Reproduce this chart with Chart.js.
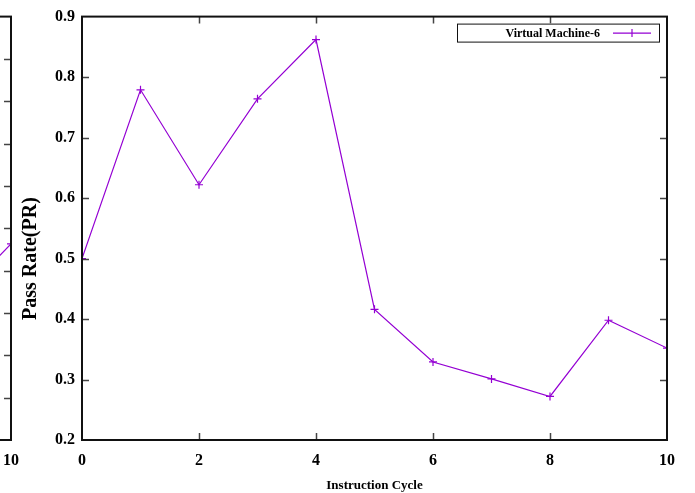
<!DOCTYPE html>
<html>
<head>
<meta charset="utf-8">
<script src="https://cdn.jsdelivr.net/npm/chart.js@4.4.1/dist/chart.umd.min.js"></script>
<style>
  html, body { margin: 0; padding: 0; background: #fff; overflow: hidden; }
  #wrap { position: relative; width: 695px; height: 493px; }
  #prev { position: absolute; left: -656px; top: 0; }
  #main { position: absolute; left: 0; top: 0; }
</style>
</head>
<body>
<div id="wrap">
  <canvas id="prev" width="695" height="493"></canvas>
  <canvas id="main" width="695" height="493"></canvas>
</div>
<script>
// ===============================
// DATOS
// ===============================
const ciclos = [0, 1, 2, 3, 4, 5, 6, 7, 8, 9, 10];
const vm6    = [0.500, 0.779, 0.622, 0.764, 0.862, 0.416, 0.329, 0.301, 0.272, 0.398, 0.352];

// panel anterior (solo se ve su borde derecho)
const ciclosPrev = [9, 10];
const vmPrev     = [0.32, 0.463];

const tituloX = "Instruction Cycle";
const tituloY = "Pass Rate(PR)";
const etiqueta = "Virtual Machine-6";

const COLOR = "#9400d3";
const SERIF = '"Liberation Serif", "Times New Roman", serif';

// ===============================
// PLUGIN: marco + ticks hacia dentro (estilo gnuplot)
// ===============================
const marcoGnuplot = {
  id: "marcoGnuplot",
  afterDatasetsDraw(chart) {
    const { ctx, chartArea: a, scales } = chart;
    const len = 7;
    ctx.save();
    ctx.strokeStyle = "#444";
    ctx.lineWidth = 1.5;
    scales.x.ticks.forEach(t => {
      const px = Math.round(scales.x.getPixelForValue(t.value)) + 0.5;
      if (px <= a.left + 1 || px >= a.right - 1) return;
      ctx.beginPath();
      ctx.moveTo(px, a.bottom); ctx.lineTo(px, a.bottom - len);
      ctx.moveTo(px, a.top);    ctx.lineTo(px, a.top + len);
      ctx.stroke();
    });
    scales.y.ticks.forEach(t => {
      const py = Math.round(scales.y.getPixelForValue(t.value)) + 0.5;
      if (py <= a.top + 1 || py >= a.bottom - 1) return;
      ctx.beginPath();
      ctx.moveTo(a.left, py);  ctx.lineTo(a.left + len, py);
      ctx.moveTo(a.right, py); ctx.lineTo(a.right - len, py);
      ctx.stroke();
    });
    ctx.strokeStyle = "#111";
    ctx.lineWidth = 2;
    ctx.strokeRect(a.left, a.top, a.right - a.left, a.bottom - a.top);
    ctx.restore();
  }
};

// ===============================
// PLUGIN: leyenda dentro del area + titulo Y
// ===============================
const leyendaGnuplot = {
  id: "leyendaGnuplot",
  afterDraw(chart) {
    const { ctx, chartArea: a, scales } = chart;
    const ds = chart.data.datasets[0];
    ctx.save();

    // titulo eje Y
    ctx.font = `bold 20px ${SERIF}`;
    ctx.fillStyle = "#000";
    ctx.textAlign = "center";
    ctx.textBaseline = "middle";
    ctx.translate(31, scales.y.getPixelForValue(0.5));
    ctx.rotate(-Math.PI / 2);
    ctx.fillText(tituloY, 0, 0);
    ctx.setTransform(1, 0, 0, 1, 0, 0);

    // caja de leyenda
    const x0 = a.right - 210, y0 = a.top + 7, w = 202, h = 18;
    ctx.fillStyle = "#fff";
    ctx.fillRect(x0, y0, w, h);
    ctx.strokeStyle = "#111";
    ctx.lineWidth = 1;
    ctx.strokeRect(x0 + 0.5, y0 + 0.5, w, h);

    ctx.font = `bold 12px ${SERIF}`;
    ctx.fillStyle = "#000";
    ctx.textAlign = "right";
    ctx.fillText(ds.label, x0 + 143, y0 + h / 2 + 1);

    const cy = y0 + h / 2 + 0.5;
    ctx.strokeStyle = COLOR;
    ctx.lineWidth = 1.2;
    ctx.beginPath();
    ctx.moveTo(x0 + 156, cy); ctx.lineTo(x0 + 194, cy);
    ctx.moveTo(x0 + 175, cy - 4); ctx.lineTo(x0 + 175, cy + 4);
    ctx.stroke();
    ctx.restore();
  }
};

// ===============================
// CONFIG COMUN
// ===============================
function crearGrafica(canvasId, xs, ys, yMin, yMax, conLeyenda) {
  const ctx = document.getElementById(canvasId).getContext("2d");
  return new Chart(ctx, {
    type: "line",
    data: {
      datasets: [{
        label: etiqueta,
        data: xs.map((x, i) => ({ x, y: ys[i] })),
        borderColor: COLOR,
        backgroundColor: COLOR,
        borderWidth: 1.2,
        pointStyle: "cross",
        pointRadius: 4,
        pointBorderWidth: 1.2,
        pointBorderColor: COLOR,
        tension: 0,
        fill: false
      }]
    },
    options: {
      responsive: false,
      animation: false,
      devicePixelRatio: 1,
      layout: { padding: { top: 12, right: 28, bottom: 0, left: 0 } },
      plugins: {
        legend: { display: false },
        tooltip: { enabled: false }
      },
      scales: {
        x: {
          type: "linear",
          min: 0, max: 10,
          grid: { display: false, drawTicks: false },
          border: { display: false },
          ticks: {
            stepSize: 2,
            padding: 11,
            color: "#000",
            font: { family: SERIF, weight: "bold", size: 16 }
          },
          title: {
            display: true,
            text: tituloX,
            color: "#000",
            padding: { top: 0, bottom: 0 },
            font: { family: SERIF, weight: "bold", size: 13 }
          },
          afterFit(s) { s.height = 53; }
        },
        y: {
          min: yMin, max: yMax,
          grid: { display: false, drawTicks: false },
          border: { display: false },
          ticks: {
            stepSize: 0.1,
            padding: 7,
            color: "#000",
            font: { family: SERIF, weight: "bold", size: 16 },
            callback: v => Number(v).toFixed(1)
          },
          afterFit(s) { s.width = 82; }
        }
      }
    },
    plugins: conLeyenda ? [marcoGnuplot, leyendaGnuplot] : [marcoGnuplot]
  });
}

crearGrafica("prev", ciclosPrev, vmPrev, 0, 1, false);
crearGrafica("main", ciclos, vm6, 0.2, 0.9, true);
</script>
</body>
</html>
